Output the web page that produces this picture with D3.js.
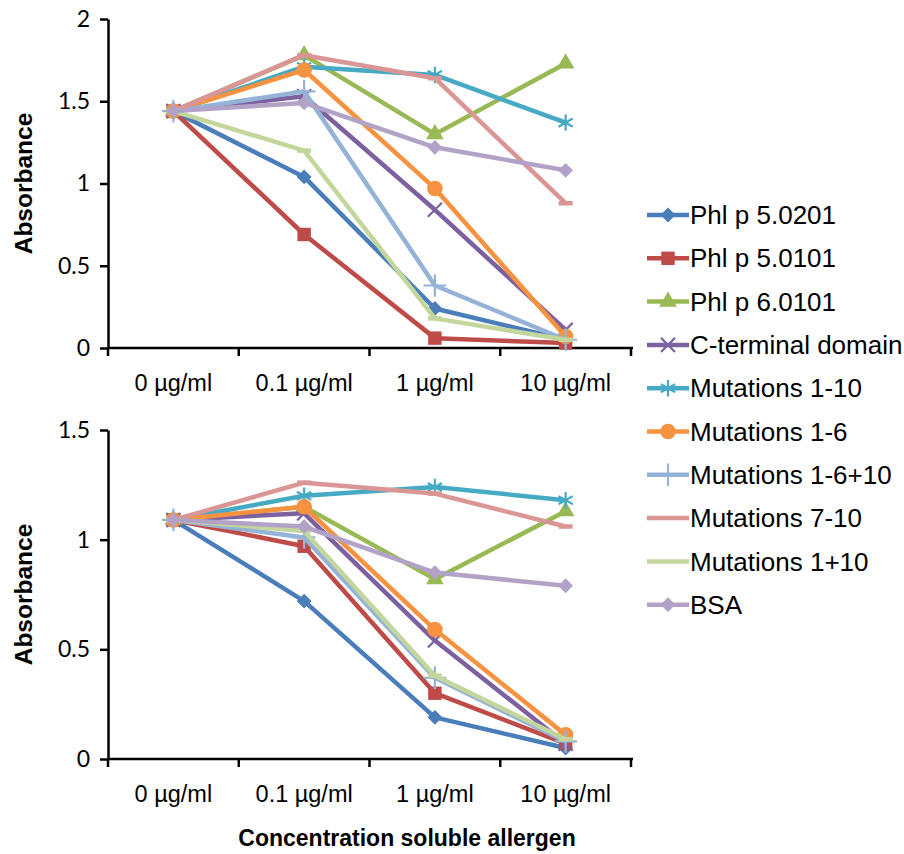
<!DOCTYPE html>
<html>
<head>
<meta charset="utf-8">
<script src="https://cdn.jsdelivr.net/npm/d3@7"></script>
<style>
  body { margin: 0; background: #fff; }
  .tick-y text { font-family: Lato, "Open Sans", sans-serif; font-size: 23px; }
  .tick-x text { font-family: "Liberation Sans", Arial, sans-serif; font-size: 23.5px; }
  .axis-label { font-family: "Liberation Sans", Arial, sans-serif; font-size: 23px; font-weight: bold; }
  .y-title { font-size: 24.5px; }
  .legend text { font-family: "Liberation Sans", Arial, sans-serif; font-size: 26px; }
</style>
</head>
<body>
<svg width="904" height="854"></svg>
<script>
const concentrations = ["0 µg/ml", "0.1 µg/ml", "1 µg/ml", "10 µg/ml"];
const seriesNames = ["Phl p 5.0201", "Phl p 5.0101", "Phl p 6.0101", "C-terminal domain",
  "Mutations 1-10", "Mutations 1-6", "Mutations 1-6+10", "Mutations 7-10", "Mutations 1+10", "BSA"];
const topTicks = [0, 0.5, 1, 1.5, 2];
const bottomTicks = [0, 0.5, 1, 1.5];

// upper panel
const top_phl5_0201 = [1.44, 1.04, 0.24, 0.05];
const top_phl5_0101 = [1.44, 0.69, 0.06, 0.03];
const top_phl6_0101 = [1.44, 1.78, 1.30, 1.73];
const top_cterm     = [1.44, 1.53, 0.84, 0.11];
const top_mut1_10   = [1.44, 1.71, 1.66, 1.37];
const top_mut1_6    = [1.44, 1.69, 0.97, 0.07];
const top_mut1_6_10 = [1.44, 1.56, 0.38, 0.05];
const top_mut7_10   = [1.44, 1.78, 1.64, 0.88];
const top_mut1p10   = [1.44, 1.20, 0.18, 0.05];
const top_bsa       = [1.44, 1.49, 1.22, 1.08];

// lower panel
const bot_phl5_0201 = [1.09, 0.72, 0.19, 0.05];
const bot_phl5_0101 = [1.09, 0.97, 0.30, 0.07];
const bot_phl6_0101 = [1.09, 1.15, 0.82, 1.13];
const bot_cterm     = [1.09, 1.12, 0.54, 0.07];
const bot_mut1_10   = [1.09, 1.20, 1.24, 1.18];
const bot_mut1_6    = [1.09, 1.15, 0.59, 0.11];
const bot_mut1_6_10 = [1.09, 1.01, 0.37, 0.08];
const bot_mut7_10   = [1.09, 1.26, 1.21, 1.06];
const bot_mut1p10   = [1.09, 1.04, 0.38, 0.09];
const bot_bsa       = [1.09, 1.06, 0.85, 0.79];

const colors = ["#4a7ebb", "#be4b48", "#98b954", "#7d60a0", "#46aac5",
  "#f69240", "#95b3d7", "#d99694", "#c3d69b", "#b3a2c7"];
// marker kind per series
const markers = ["diamond", "square", "triangle", "x", "asterisk", "circle", "plus", "dash", "dash", "diamond"];

const topData = [top_phl5_0201, top_phl5_0101, top_phl6_0101, top_cterm, top_mut1_10,
  top_mut1_6, top_mut1_6_10, top_mut7_10, top_mut1p10, top_bsa];
const botData = [bot_phl5_0201, bot_phl5_0101, bot_phl6_0101, bot_cterm, bot_mut1_10,
  bot_mut1_6, bot_mut1_6_10, bot_mut7_10, bot_mut1p10, bot_bsa];

const svg = d3.select('svg');

const drawMarker = (sel, kind, color) => {
  if (kind === 'diamond') {
    sel.append('path').attr('d', d3.symbol(d3.symbolSquare, 110)())
      .attr('transform', 'rotate(45)').attr('fill', color);
  } else if (kind === 'square') {
    sel.append('path').attr('d', d3.symbol(d3.symbolSquare, 180)()).attr('fill', color);
  } else if (kind === 'triangle') {
    sel.append('path').attr('d', d3.symbol(d3.symbolTriangle, 135)()).attr('fill', color);
  } else if (kind === 'circle') {
    sel.append('path').attr('d', d3.symbol(d3.symbolCircle, 190)()).attr('fill', color);
  } else if (kind === 'x') {
    sel.append('path').attr('d', d3.symbol(d3.symbolX, 130)())
      .attr('fill', 'none').attr('stroke', color).attr('stroke-width', 2.2);
  } else if (kind === 'asterisk') {
    sel.append('path').attr('d', d3.symbol(d3.symbolAsterisk, 190)())
      .attr('fill', 'none').attr('stroke', color).attr('stroke-width', 2.2);
  } else if (kind === 'plus') {
    sel.append('path').attr('d', d3.symbol(d3.symbolPlus, 170)())
      .attr('fill', 'none').attr('stroke', color).attr('stroke-width', 2.2);
  } else if (kind === 'dash') {
    sel.append('path').attr('d', 'M-7,0H7')
      .attr('fill', 'none').attr('stroke', color).attr('stroke-width', 4.5);
  }
};

const renderPanel = (series, ticks, yMax, yTop, yBottom) => {
  const left = 108, right = 631;

  const xScale = d3.scaleBand()
    .domain(concentrations)
    .range([left, right])
    .padding(0);

  const yScale = d3.scaleLinear()
    .domain([0, yMax])
    .range([yBottom, yTop]);

  const g = svg.append('g');

  // y axis
  const yAxis = d3.axisLeft(yScale)
    .tickValues(ticks)
    .tickSize(8)
    .tickSizeOuter(0)
    .tickPadding(10)
    .tickFormat(d3.format(''));
  const yg = g.append('g').attr('class', 'tick-y')
    .attr('transform', `translate(${left}, 0)`)
    .call(yAxis);
  yg.select('.domain').attr('stroke-width', 2.5);
  yg.selectAll('.tick line').attr('stroke-width', 2.5);

  // x axis: labels at band centres, tick marks at band boundaries
  const xAxis = d3.axisBottom(xScale).tickSize(0).tickPadding(26);
  const xg = g.append('g').attr('class', 'tick-x')
    .attr('transform', `translate(0, ${yBottom})`)
    .call(xAxis);
  xg.select('.domain').attr('stroke-width', 2.5).attr('d', `M${left},0H${right + 2}`);
  xg.selectAll('.bound')
    .data(concentrations.map(c => xScale(c)).concat([right]))
    .join('line')
    .attr('class', 'bound')
    .attr('x1', d => d).attr('x2', d => d)
    .attr('y1', 0).attr('y2', 8)
    .attr('stroke', 'black').attr('stroke-width', 2.5);

  const line = d3.line()
    .x((d, i) => xScale(concentrations[i]) + xScale.bandwidth() / 2)
    .y(d => yScale(d));

  series.forEach((vals, s) => {
    const sg = g.append('g');
    sg.append('path')
      .attr('d', line(vals))
      .attr('fill', 'none')
      .attr('stroke', colors[s])
      .attr('stroke-width', 4.5)
      .attr('stroke-linejoin', 'round');
    vals.forEach((v, i) => {
      const m = sg.append('g')
        .attr('transform', `translate(${xScale(concentrations[i]) + xScale.bandwidth() / 2}, ${yScale(v)})`);
      drawMarker(m, markers[s], colors[s]);
    });
  });

  // y axis title
  g.append('text')
    .attr('class', 'axis-label y-title')
    .attr('transform', `translate(32, ${(yTop + yBottom) / 2}) rotate(-90)`)
    .attr('text-anchor', 'middle')
    .text('Absorbance');
};

renderPanel(topData, topTicks, 2, 19, 348);
renderPanel(botData, bottomTicks, 1.5, 430, 759);

svg.append('text')
  .attr('class', 'axis-label')
  .attr('x', 407)
  .attr('y', 846)
  .attr('text-anchor', 'middle')
  .text('Concentration soluble allergen');

// legend
const legend = svg.append('g').attr('class', 'legend');
seriesNames.forEach((name, i) => {
  const row = legend.append('g')
    .attr('transform', `translate(647, ${215 + i * 43.3})`);
  row.append('line')
    .attr('x1', 0).attr('x2', 42)
    .attr('stroke', colors[i]).attr('stroke-width', 4.5);
  const m = row.append('g').attr('transform', 'translate(21, 0)');
  if (markers[i] !== 'dash') drawMarker(m, markers[i], colors[i]);
  row.append('text')
    .attr('x', 43)
    .attr('dy', '0.35em')
    .text(name);
});
</script>
</body>
</html>
